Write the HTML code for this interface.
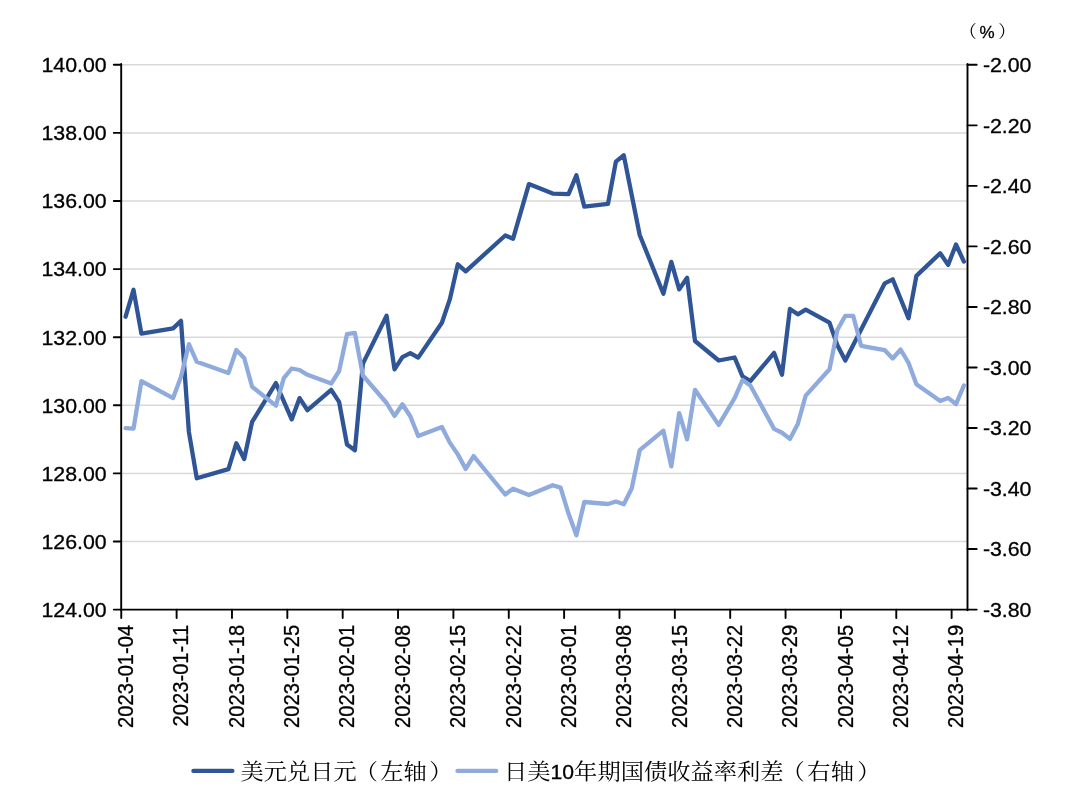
<!DOCTYPE html>
<html lang="zh-CN"><head><meta charset="utf-8"><title>美元兑日元与日美10年期国债收益率利差</title>
<style>html,body{margin:0;padding:0;background:#fff}body{width:1080px;height:806px;overflow:hidden}svg{display:block}.n{font-family:"Liberation Sans",sans-serif;fill:#000;stroke:#000;stroke-width:.3px}.c{font-family:"Liberation Serif","Noto Serif CJK SC",serif;fill:#000}</style></head><body>
<svg width="1080" height="806" viewBox="0 0 1080 806">
<rect width="1080" height="806" fill="#fff"/>
<g stroke="#d9d9d9" stroke-width="1.5">
<line x1="121.2" y1="64.80" x2="967.5" y2="64.80"/>
<line x1="121.2" y1="132.90" x2="967.5" y2="132.90"/>
<line x1="121.2" y1="201.00" x2="967.5" y2="201.00"/>
<line x1="121.2" y1="269.10" x2="967.5" y2="269.10"/>
<line x1="121.2" y1="337.20" x2="967.5" y2="337.20"/>
<line x1="121.2" y1="405.30" x2="967.5" y2="405.30"/>
<line x1="121.2" y1="473.40" x2="967.5" y2="473.40"/>
<line x1="121.2" y1="541.50" x2="967.5" y2="541.50"/>
</g>
<polyline fill="none" stroke="#2f5597" stroke-width="4.3" stroke-linejoin="round" stroke-linecap="round" points="125.6,316.7 133.5,289.8 141.4,333.7 173.1,328.4 181.0,320.9 188.9,432.0 196.8,478.3 228.4,469.1 236.3,443.3 244.2,459.0 252.1,421.9 275.9,383.1 291.7,419.4 299.6,398.1 307.5,410.2 331.2,389.9 339.1,401.9 347.0,444.5 354.9,450.3 362.9,363.6 386.6,315.7 394.5,369.3 402.4,357.1 410.3,353.1 418.2,357.6 441.9,322.7 449.8,299.4 457.8,264.3 465.7,271.3 505.2,235.5 513.1,238.7 528.9,184.1 552.7,193.6 568.5,194.1 576.4,175.3 584.3,206.6 608.0,203.8 615.9,161.6 623.8,155.3 639.7,235.0 663.4,293.7 671.3,261.9 679.2,289.4 687.1,277.7 695.0,341.0 718.7,360.5 734.6,357.5 742.5,376.3 750.4,381.0 774.1,352.9 782.0,374.8 789.9,308.9 797.8,314.3 805.7,309.6 829.5,322.7 837.4,345.3 845.3,360.5 884.8,283.3 892.7,279.3 908.5,318.3 916.4,275.9 940.2,253.2 948.1,264.9 956.0,244.5 963.9,261.6"/>
<polyline fill="none" stroke="#8faadc" stroke-width="4.3" stroke-linejoin="round" stroke-linecap="round" points="125.6,428.2 133.5,428.7 141.4,381.1 173.1,398.1 181.0,376.8 188.9,344.2 196.8,361.8 228.4,373.1 236.3,350.0 244.2,358.0 252.1,386.8 275.9,405.6 283.8,378.1 291.7,368.5 299.6,370.0 307.5,374.8 331.2,383.6 339.1,371.0 347.0,334.2 354.9,332.9 362.9,375.5 386.6,403.0 394.5,416.0 402.4,404.2 410.3,416.2 418.2,436.0 441.9,427.0 449.8,442.6 457.8,454.4 465.7,468.9 473.6,456.1 505.2,494.5 513.1,488.7 528.9,495.0 552.7,485.2 560.6,487.6 568.5,513.6 576.4,535.2 584.3,502.0 608.0,504.0 615.9,501.5 623.8,504.2 631.7,488.5 639.7,450.2 663.4,430.7 671.3,466.4 679.2,413.1 687.1,439.4 695.0,389.8 718.7,424.9 734.6,398.1 742.5,380.0 750.4,385.5 774.1,428.9 782.0,432.7 789.9,438.9 797.8,423.9 805.7,395.6 829.5,369.3 837.4,329.9 845.3,315.8 853.2,315.8 861.1,345.8 884.8,350.2 892.7,358.5 900.6,349.5 908.5,362.8 916.4,384.3 940.2,401.0 948.1,397.9 956.0,404.1 963.9,385.5"/>
<g stroke="#000" stroke-width="1.9" fill="none" stroke-linecap="round">
<line x1="121.2" y1="64.05" x2="121.2" y2="610.35"/>
<line x1="967.5" y1="64.05" x2="967.5" y2="610.35"/>
<line x1="121.2" y1="609.60" x2="967.5" y2="609.60"/>
<line x1="113.8" y1="64.80" x2="121.2" y2="64.80"/>
<line x1="113.8" y1="132.90" x2="121.2" y2="132.90"/>
<line x1="113.8" y1="201.00" x2="121.2" y2="201.00"/>
<line x1="113.8" y1="269.10" x2="121.2" y2="269.10"/>
<line x1="113.8" y1="337.20" x2="121.2" y2="337.20"/>
<line x1="113.8" y1="405.30" x2="121.2" y2="405.30"/>
<line x1="113.8" y1="473.40" x2="121.2" y2="473.40"/>
<line x1="113.8" y1="541.50" x2="121.2" y2="541.50"/>
<line x1="113.8" y1="609.60" x2="121.2" y2="609.60"/>
<line x1="967.5" y1="64.80" x2="976.7" y2="64.80"/>
<line x1="967.5" y1="125.33" x2="976.7" y2="125.33"/>
<line x1="967.5" y1="185.87" x2="976.7" y2="185.87"/>
<line x1="967.5" y1="246.40" x2="976.7" y2="246.40"/>
<line x1="967.5" y1="306.93" x2="976.7" y2="306.93"/>
<line x1="967.5" y1="367.47" x2="976.7" y2="367.47"/>
<line x1="967.5" y1="428.00" x2="976.7" y2="428.00"/>
<line x1="967.5" y1="488.53" x2="976.7" y2="488.53"/>
<line x1="967.5" y1="549.07" x2="976.7" y2="549.07"/>
<line x1="967.5" y1="609.60" x2="976.7" y2="609.60"/>
<line x1="121.25" y1="609.60" x2="121.25" y2="618.10"/>
<line x1="176.61" y1="609.60" x2="176.61" y2="618.10"/>
<line x1="231.97" y1="609.60" x2="231.97" y2="618.10"/>
<line x1="287.33" y1="609.60" x2="287.33" y2="618.10"/>
<line x1="342.69" y1="609.60" x2="342.69" y2="618.10"/>
<line x1="398.04" y1="609.60" x2="398.04" y2="618.10"/>
<line x1="453.40" y1="609.60" x2="453.40" y2="618.10"/>
<line x1="508.76" y1="609.60" x2="508.76" y2="618.10"/>
<line x1="564.12" y1="609.60" x2="564.12" y2="618.10"/>
<line x1="619.48" y1="609.60" x2="619.48" y2="618.10"/>
<line x1="674.84" y1="609.60" x2="674.84" y2="618.10"/>
<line x1="730.20" y1="609.60" x2="730.20" y2="618.10"/>
<line x1="785.56" y1="609.60" x2="785.56" y2="618.10"/>
<line x1="840.92" y1="609.60" x2="840.92" y2="618.10"/>
<line x1="896.27" y1="609.60" x2="896.27" y2="618.10"/>
<line x1="951.63" y1="609.60" x2="951.63" y2="618.10"/>
</g>
<g class="n" font-size="20.00" text-anchor="end">
<text transform="translate(106.6,72.10) scale(1.066,1)">140.00</text>
<text transform="translate(106.6,140.20) scale(1.066,1)">138.00</text>
<text transform="translate(106.6,208.30) scale(1.066,1)">136.00</text>
<text transform="translate(106.6,276.40) scale(1.066,1)">134.00</text>
<text transform="translate(106.6,344.50) scale(1.066,1)">132.00</text>
<text transform="translate(106.6,412.60) scale(1.066,1)">130.00</text>
<text transform="translate(106.6,480.70) scale(1.066,1)">128.00</text>
<text transform="translate(106.6,548.80) scale(1.066,1)">126.00</text>
<text transform="translate(106.6,616.90) scale(1.066,1)">124.00</text>
</g>
<g class="n" font-size="20.00" text-anchor="start">
<text transform="translate(982.9,72.10) scale(1.066,1)">-2.00</text>
<text transform="translate(982.9,132.63) scale(1.066,1)">-2.20</text>
<text transform="translate(982.9,193.17) scale(1.066,1)">-2.40</text>
<text transform="translate(982.9,253.70) scale(1.066,1)">-2.60</text>
<text transform="translate(982.9,314.23) scale(1.066,1)">-2.80</text>
<text transform="translate(982.9,374.77) scale(1.066,1)">-3.00</text>
<text transform="translate(982.9,435.30) scale(1.066,1)">-3.20</text>
<text transform="translate(982.9,495.83) scale(1.066,1)">-3.40</text>
<text transform="translate(982.9,556.37) scale(1.066,1)">-3.60</text>
<text transform="translate(982.9,616.90) scale(1.066,1)">-3.80</text>
</g>
<g class="n" font-size="21.60" text-anchor="end">
<text transform="translate(133.05,624.8) rotate(-90) scale(0.934,1)">2023-01-04</text>
<text transform="translate(188.41,624.8) rotate(-90) scale(0.934,1)">2023-01-11</text>
<text transform="translate(243.77,624.8) rotate(-90) scale(0.934,1)">2023-01-18</text>
<text transform="translate(299.13,624.8) rotate(-90) scale(0.934,1)">2023-01-25</text>
<text transform="translate(354.49,624.8) rotate(-90) scale(0.934,1)">2023-02-01</text>
<text transform="translate(409.84,624.8) rotate(-90) scale(0.934,1)">2023-02-08</text>
<text transform="translate(465.20,624.8) rotate(-90) scale(0.934,1)">2023-02-15</text>
<text transform="translate(520.56,624.8) rotate(-90) scale(0.934,1)">2023-02-22</text>
<text transform="translate(575.92,624.8) rotate(-90) scale(0.934,1)">2023-03-01</text>
<text transform="translate(631.28,624.8) rotate(-90) scale(0.934,1)">2023-03-08</text>
<text transform="translate(686.64,624.8) rotate(-90) scale(0.934,1)">2023-03-15</text>
<text transform="translate(742.00,624.8) rotate(-90) scale(0.934,1)">2023-03-22</text>
<text transform="translate(797.36,624.8) rotate(-90) scale(0.934,1)">2023-03-29</text>
<text transform="translate(852.72,624.8) rotate(-90) scale(0.934,1)">2023-04-05</text>
<text transform="translate(908.07,624.8) rotate(-90) scale(0.934,1)">2023-04-12</text>
<text transform="translate(963.43,624.8) rotate(-90) scale(0.934,1)">2023-04-19</text>
</g>
<text class="c" font-size="17.2" y="37.9"><tspan x="959.4">（</tspan><tspan class="n" font-size="17" x="979.4" y="37.8">%</tspan><tspan x="998.2" y="37.9">）</tspan></text>
<g fill="none" stroke-width="4.3" stroke-linecap="round">
<line x1="193.4" y1="770.9" x2="232.4" y2="770.9" stroke="#2f5597"/>
<line x1="457.5" y1="770.9" x2="496.2" y2="770.9" stroke="#8faadc"/>
</g>
<text class="c" font-size="22" transform="translate(240.6,778.6) scale(1.055,1)">美元兑日元<tspan dx="-1.9">（</tspan><tspan dx="2.3">左轴</tspan><tspan dx="2.4">）</tspan></text>
<text class="c" font-size="22" transform="translate(504.0,778.6) scale(1.059,1)">日美<tspan class="n" font-size="20">10</tspan>年期国债收益率利差<tspan dx="-1.9">（</tspan><tspan dx="2.3">右轴</tspan><tspan dx="3.2">）</tspan></text>
</svg></body></html>
